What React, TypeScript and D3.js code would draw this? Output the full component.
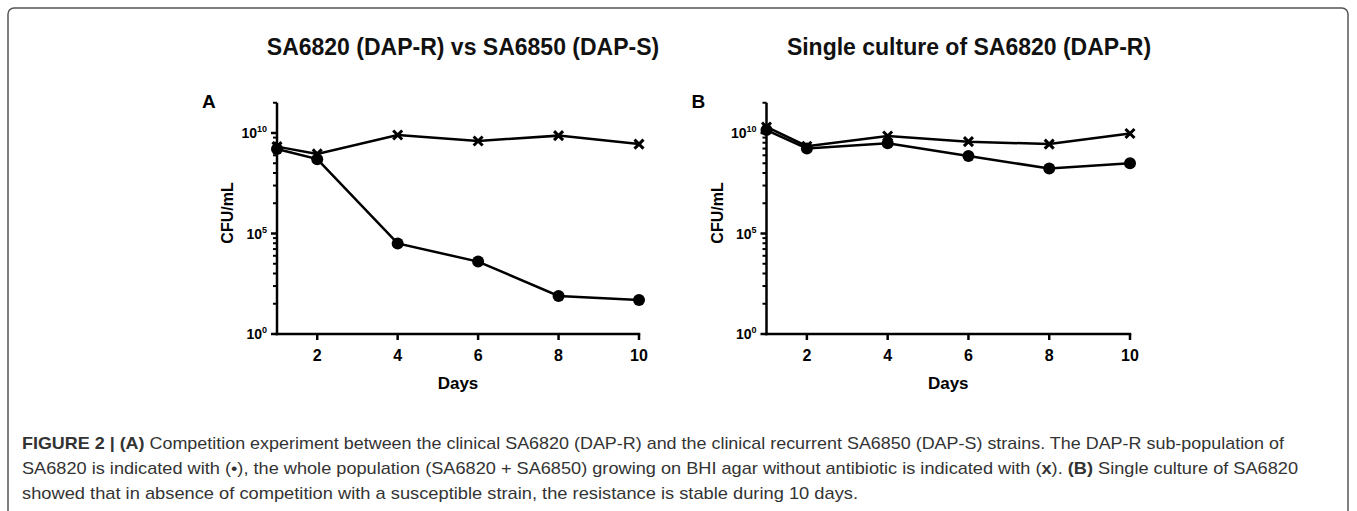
import React, { useLayoutEffect } from "react";
import * as d3 from "d3";

const days = [1, 2, 4, 6, 8, 10];
const xTicks = [2, 4, 6, 8, 10];
const yMajor = [1, 1e5, 1e10];
const yMajorExp = ["0", "5", "10"];

// Panel A: SA6820 (DAP-R) vs SA6850 (DAP-S)
const aCircles = [1.6e9, 5.0e8, 3.2e4, 4.0e3, 78, 49];
const aCrosses = [2.1e9, 9.1e8, 7.9e9, 4.0e9, 7.4e9, 2.8e9];
// Panel B: single culture of SA6820 (DAP-R)
const bCircles = [1.4e10, 1.7e9, 3.1e9, 7.2e8, 1.7e8, 3.1e8];
const bCrosses = [2.0e10, 2.2e9, 7.1e9, 3.7e9, 2.8e9, 9.5e9];

const titles = ["SA6820 (DAP-R) vs SA6850 (DAP-S)", "Single culture of SA6820 (DAP-R)"];
const letters = ["A", "B"];

const W = 1357;
const H = 511;
const Y0 = 334;
const PER_DEC = 20.1;
const TOP_EXP = 5 * Math.log10(2) + 10;

const yScale = d3
  .scaleLog()
  .domain([1, Math.pow(10, TOP_EXP)])
  .range([Y0, Y0 - TOP_EXP * PER_DEC]);

// minor ticks: Prism-style, each 5-decade interval subdivided like a decade
const minorTicks: number[] = [];
[0, 5, 10].forEach((base) => {
  for (let k = 2; k <= 9; k++) {
    const e = base + 5 * Math.log10(k);
    if (e <= TOP_EXP + 1e-6) minorTicks.push(Math.pow(10, e));
  }
});

const BOLD = "'Liberation Sans', Arial, Helvetica, sans-serif";

function Cross({ x, y }: { x: number; y: number }) {
  const s = 4.5;
  return (
    <path
      d={`M${x - s},${y - s}L${x + s},${y + s}M${x - s},${y + s}L${x + s},${y - s}`}
      stroke="#000"
      strokeWidth={3}
    />
  );
}

function Panel({
  x0,
  x1,
  circles,
  crosses,
  title,
  letter,
  titleX,
}: {
  x0: number;
  x1: number;
  circles: number[];
  crosses: number[];
  title: string;
  letter: string;
  titleX: number;
}) {
  const xScale = d3.scaleLinear().domain([1, 10]).range([x0, x1]);
  const line = d3
    .line<number>()
    .x((_, i) => xScale(days[i]))
    .y((d) => yScale(d));
  const yTop = yScale(Math.pow(10, TOP_EXP));
  const xMid = (x0 + x1) / 2;
  return (
    <g fontFamily={BOLD}>
      <text x={titleX} y={55} textAnchor="middle" fontWeight="bold" fontSize={23} fill="#111">
        {title}
      </text>
      <text x={x0 - 75} y={108} fontWeight="bold" fontSize={19} fill="#000">
        {letter}
      </text>
      {/* axes */}
      <line x1={x0} x2={x0} y1={yTop} y2={Y0 + 1.25} stroke="#000" strokeWidth={2.5} />
      <line x1={x0 - 1.25} x2={x1 + 1.25} y1={Y0} y2={Y0} stroke="#000" strokeWidth={2.5} />
      {yMajor.map((v, i) => (
        <g key={"ym" + i}>
          <line x1={x0 - 6} x2={x0} y1={yScale(v)} y2={yScale(v)} stroke="#000" strokeWidth={2.5} />
          <text
            x={x0 - 10}
            y={yScale(v) + 5}
            textAnchor="end"
            fontWeight="bold"
            fontSize={14}
            fill="#000"
          >
            10
            <tspan fontSize={9} dy={-6}>
              {yMajorExp[i]}
            </tspan>
          </text>
        </g>
      ))}
      {minorTicks.map((v, i) => (
        <line
          key={"yn" + i}
          x1={x0 - 4}
          x2={x0}
          y1={yScale(v)}
          y2={yScale(v)}
          stroke="#000"
          strokeWidth={2}
        />
      ))}
      {xTicks.map((t) => (
        <g key={"xt" + t}>
          <line x1={xScale(t)} x2={xScale(t)} y1={Y0} y2={Y0 + 6} stroke="#000" strokeWidth={2.5} />
          <text
            x={xScale(t)}
            y={361}
            textAnchor="middle"
            fontWeight="bold"
            fontSize={16}
            fill="#000"
          >
            {t}
          </text>
        </g>
      ))}
      <text x={xMid} y={389} textAnchor="middle" fontWeight="bold" fontSize={17} fill="#000">
        Days
      </text>
      <text
        transform={`translate(${x0 - 44},213) rotate(-90)`}
        textAnchor="middle"
        fontWeight="bold"
        fontSize={16}
        fill="#000"
      >
        CFU/mL
      </text>
      {/* series */}
      <path d={line(crosses) || ""} fill="none" stroke="#000" strokeWidth={2.5} />
      <path d={line(circles) || ""} fill="none" stroke="#000" strokeWidth={2.5} />
      {crosses.map((v, i) => (
        <Cross key={"c" + i} x={xScale(days[i])} y={yScale(v)} />
      ))}
      {circles.map((v, i) => (
        <circle key={"o" + i} cx={xScale(days[i])} cy={yScale(v)} r={6} fill="#000" />
      ))}
    </g>
  );
}

const CAP = "'Liberation Sans Narrow', 'Arial Narrow', 'Liberation Sans', Arial, sans-serif";

export default function App() {
  useLayoutEffect(() => {
    document.body.style.margin = "0";
  }, []);
  return (
    <svg width={W} height={H} style={{ display: "block", background: "#fff" }}>
      <rect x={8} y={8} width={1340} height={560} rx={6} fill="none" stroke="#555" strokeWidth={1.5} />
      <Panel
        x0={277}
        x1={639}
        circles={aCircles}
        crosses={aCrosses}
        title={titles[0]}
        letter={letters[0]}
        titleX={463}
      />
      <Panel
        x0={766.5}
        x1={1130}
        circles={bCircles}
        crosses={bCrosses}
        title={titles[1]}
        letter={letters[1]}
        titleX={969}
      />
      <g fontFamily={CAP} fontSize={17} fill="#333">
        <text x={22} y={449} textLength={1262} lengthAdjust="spacingAndGlyphs">
          <tspan fontWeight="bold">FIGURE 2 | (A)</tspan> Competition experiment between the clinical
          SA6820 (DAP-R) and the clinical recurrent SA6850 (DAP-S) strains. The DAP-R sub-population of
        </text>
        <text x={22} y={474} textLength={1276} lengthAdjust="spacingAndGlyphs">
          SA6820 is indicated with (•), the whole population (SA6820 + SA6850) growing on BHI agar
          without antibiotic is indicated with (<tspan fontWeight="bold">x</tspan>).{" "}
          <tspan fontWeight="bold">(B)</tspan> Single culture of SA6820
        </text>
        <text x={22} y={499} textLength={836} lengthAdjust="spacingAndGlyphs">
          showed that in absence of competition with a susceptible strain, the resistance is stable
          during 10 days.
        </text>
      </g>
    </svg>
  );
}
